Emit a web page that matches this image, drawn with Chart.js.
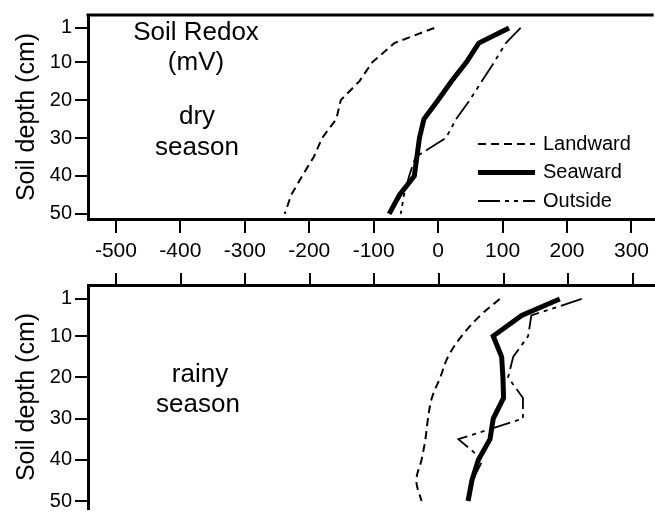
<!DOCTYPE html>
<html>
<head>
<meta charset="utf-8">
<script src="https://cdn.jsdelivr.net/npm/chart.js@4.4.1/dist/chart.umd.min.js"></script>
<style>
  html, body { margin: 0; padding: 0; background: #fff; overflow: hidden; width: 655px; height: 524px; }
  .panel { position: absolute; left: 0; width: 655px; height: 262px; }
  #dryWrap { top: 0; }
  #rainyWrap { top: 262px; }
</style>
</head>
<body>
<div class="panel" id="dryWrap"><canvas id="dry" width="655" height="262"></canvas></div>
<div class="panel" id="rainyWrap"><canvas id="rainy" width="655" height="262"></canvas></div>
<script>
// Soil depth (cm) of each reading
const depths = [1, 5, 10, 15, 20, 25, 30, 35, 40, 45, 50];

// Redox potential (mV), dry season
const dryLandward = [-6, -68, -102, -122, -151, -158, -180, -193, -211, -228, -238];
const drySeaward  = [110, 63, 44, 21, 0, -22, -29, -33, -37, -60, -76];
const dryOutside  = [128, 105, 87, 68, 49, 28, 12, -35, -45, -53, -58];

// Redox potential (mV), rainy season
const rainyLandward = [94, 64, 35, 14, 2, -11, -17, -21, -27, -35, -27];
const rainySeaward  = [187, 128, 84, 97, 99, 100, 84, 79, 61, 51, 45];
const rainyOutside  = [221, 143, 138, 115, 107, 130, 130, 30, 68, 52, null];

const redoxTicks = [-500, -400, -300, -200, -100, 0, 100, 200, 300];
const depthTicks = [1, 10, 20, 30, 40, 50];
const seriesNames = ['Landward', 'Seaward', 'Outside'];

const FONT = "'Liberation Sans', Arial, Helvetica, sans-serif";
const INK = '#000';

const lineStyles = [
  { borderWidth: 2,   borderDash: [8, 5] },
  { borderWidth: 5,   borderDash: [] },
  { borderWidth: 1.8, borderDash: [22, 5, 4, 5, 4, 5] }
];

function toPoints(values) {
  const pts = [];
  values.forEach((v, i) => { if (v !== null) pts.push({ x: v, y: depths[i] }); });
  return pts;
}

function buildDatasets(series, smoothFirst) {
  return series.map((vals, i) => ({
    label: seriesNames[i],
    data: toPoints(vals),
    borderColor: INK,
    backgroundColor: INK,
    borderWidth: lineStyles[i].borderWidth,
    borderDash: lineStyles[i].borderDash,
    borderCapStyle: 'butt',
    borderJoinStyle: 'miter',
    pointRadius: 0,
    tension: (smoothFirst && i === 0) ? 0.35 : 0,
    fill: false,
    order: i === 1 ? 0 : 1
  }));
}

// Free text placed on the plot area, plus the key when requested
const notesPlugin = {
  id: 'notes',
  afterDraw(chart, args, opts) {
    const ctx = chart.ctx;
    const area = chart.chartArea;
    ctx.save();
    ctx.fillStyle = INK;
    ctx.strokeStyle = INK;
    if (opts.topBorder) {
      ctx.lineWidth = 3;
      ctx.beginPath();
      ctx.moveTo(area.left - 1.5, area.top);
      ctx.lineTo(area.right, area.top);
      ctx.stroke();
    }
    ctx.font = '26px ' + FONT;
    ctx.textAlign = 'center';
    ctx.textBaseline = 'middle';
    (opts.texts || []).forEach(t => ctx.fillText(t.text, t.x, t.y));
    if (opts.key) {
      const k = opts.key;
      chart.data.datasets.forEach((ds, i) => {
        const y = k.y + i * k.gap;
        ctx.lineWidth = ds.borderWidth;
        ctx.setLineDash(ds.borderDash);
        ctx.lineCap = 'butt';
        ctx.beginPath();
        ctx.moveTo(k.x, y);
        ctx.lineTo(k.x + k.len, y);
        ctx.stroke();
        ctx.setLineDash([]);
        ctx.font = '20px ' + FONT;
        ctx.textAlign = 'left';
        ctx.fillText(ds.label, k.x + k.len + 8, y);
      });
    }
    ctx.restore();
  }
};

function makeChart(id, series, cfg) {
  return new Chart(document.getElementById(id), {
    type: 'line',
    data: { datasets: buildDatasets(series, cfg.smoothLandward) },
    plugins: [notesPlugin],
    options: {
      responsive: false,
      animation: false,
      devicePixelRatio: 1,
      layout: { padding: { top: cfg.padTop, left: 0, right: 0, bottom: 0 } },
      plugins: {
        legend: { display: false },
        tooltip: { enabled: false },
        notes: cfg.notes
      },
      scales: {
        x: {
          type: 'linear',
          position: cfg.xPosition,
          min: -543.3,
          max: 334.4,
          afterBuildTicks: s => { s.ticks = redoxTicks.map(v => ({ value: v })); },
          afterFit: s => { s.height = cfg.xHeight; },
          border: { display: true, color: INK, width: 3 },
          grid: { drawOnChartArea: false, drawTicks: true, tickLength: cfg.xTickLength, color: INK, lineWidth: 2 },
          ticks: { display: cfg.xLabels, color: INK, font: { family: FONT, size: 21 }, padding: 6, maxRotation: 0 }
        },
        y: {
          type: 'linear',
          reverse: true,
          min: cfg.yMin,
          max: cfg.yMax,
          afterBuildTicks: s => { s.ticks = depthTicks.map(v => ({ value: v })); },
          afterFit: s => { s.width = 88; },
          border: { display: true, color: INK, width: 3 },
          grid: { drawOnChartArea: false, drawTicks: true, tickLength: 13, color: INK, lineWidth: 2 },
          ticks: { color: INK, font: { family: FONT, size: 20 }, padding: 3 },
          title: {
            display: true,
            text: 'Soil depth (cm)',
            color: INK,
            font: { family: FONT, size: 25 },
            padding: { top: 12, bottom: 0 }
          }
        }
      }
    }
  });
}

makeChart('dry', [dryLandward, drySeaward, dryOutside], {
  padTop: 12,
  xPosition: 'bottom',
  xHeight: 43,
  xTickLength: 14,
  xLabels: true,
  smoothLandward: false,
  yMin: -2.41,
  yMax: 51.34,
  notes: {
    topBorder: true,
    texts: [
      { text: 'Soil Redox', x: 196, y: 33 },
      { text: '(mV)', x: 196, y: 63 },
      { text: 'dry', x: 197, y: 117 },
      { text: 'season', x: 197, y: 148 }
    ],
    key: { x: 478, y: 144, gap: 28.5, len: 57 }
  }
});

makeChart('rainy', [rainyLandward, rainySeaward, rainyOutside], {
  padTop: 0,
  xPosition: 'top',
  xHeight: 23,
  xTickLength: 12,
  xLabels: false,
  smoothLandward: true,
  yMin: -2.39,
  yMax: 51.93,
  notes: {
    topBorder: false,
    texts: [
      { text: 'rainy', x: 200, y: 113 },
      { text: 'season', x: 198, y: 143 }
    ]
  }
});
</script>
</body>
</html>
